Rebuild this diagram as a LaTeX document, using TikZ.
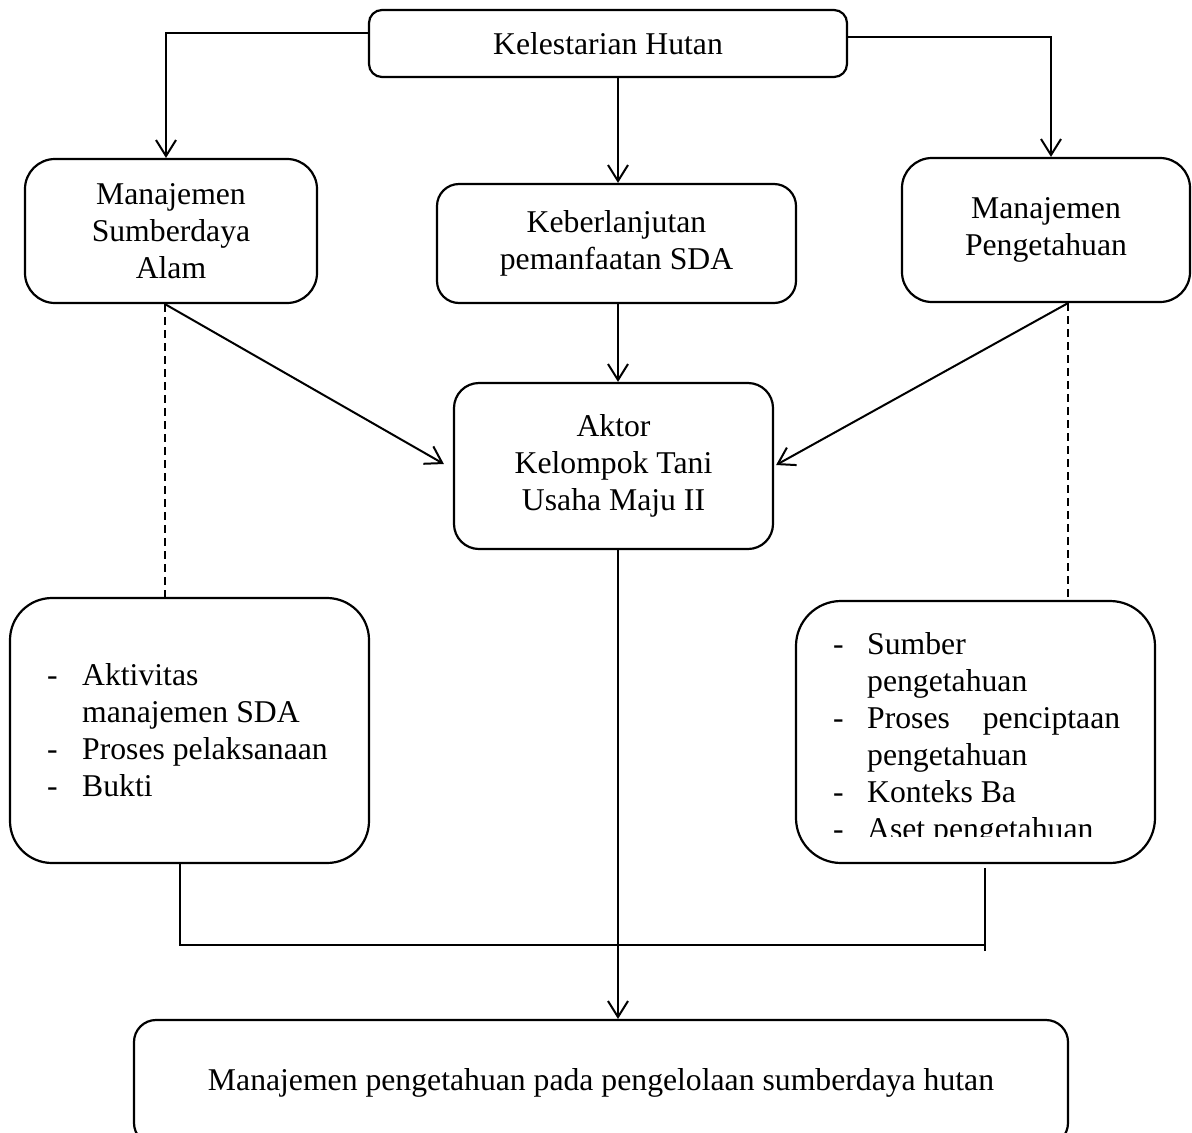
\documentclass[tikz,border=0pt]{standalone}
\usepackage{fontspec}
\setmainfont{Liberation Serif}
\usetikzlibrary{arrows.meta}
\newcommand{\diafont}{\fontsize{31.7}{37}\selectfont}
\newcommand{\ditem}[2]{\hangindent=#1\hangafter=1\noindent\makebox[#1][l]{-}#2\par}
\begin{document}
\begin{tikzpicture}[x=1pt,y=-1pt,
  box/.style={draw, line width=2.2pt, inner sep=0pt, align=center, font=\diafont},
  arr/.style={-{Straight Barb[length=16pt,width=20pt]}, line width=2pt},
  dsh/.style={line width=1.5pt, dash pattern=on 8pt off 5pt},
  brk/.style={line width=1.5pt},
  txt/.style={anchor=base west, inner sep=0pt, font=\diafont}]
\useasboundingbox (0,0) rectangle (1192,1133);
\clip (0,0) rectangle (1192,1133);

\node[box, minimum width=478pt, minimum height=67pt, rounded corners=13pt] (top) at (608,43.5) {Kelestarian Hutan};
\node[box, minimum width=292pt, minimum height=144pt, rounded corners=30pt] (msa) at (171,231) {Manajemen\\Sumberdaya\\Alam};
\node[box, minimum width=359pt, minimum height=119pt, rounded corners=22pt] (keb) at (616.5,243.5) {Keberlanjutan\\pemanfaatan SDA};
\node[box, minimum width=288pt, minimum height=144pt, rounded corners=30pt] (mp) at (1046,230) {Manajemen\\Pengetahuan};
\node[box, minimum width=319pt, minimum height=166pt, rounded corners=25pt] (aktor) at (613.5,466) {Aktor\\Kelompok Tani\\Usaha Maju II};
\node[box, minimum width=359pt, minimum height=265pt, rounded corners=42pt] (lb) at (189.5,730.5) {};
\node[box, minimum width=359pt, minimum height=262pt, rounded corners=45pt] (rb) at (975.5,732) {};
\node[box, minimum width=934pt, minimum height=125pt, rounded corners=22pt] (bot) at (601,1082.5) {Manajemen pengetahuan pada pengelolaan sumberdaya hutan};

\node[txt] (lbtext) at (47,685) {\parbox[t]{295pt}{
  \ditem{35pt}{Aktivitas\newline manajemen SDA}
  \ditem{35pt}{Proses pelaksanaan}
  \ditem{35pt}{Bukti}}};

\begin{scope}
\clip (790,590) rectangle (1160,836);
\node[txt] (rbtext) at (833,654) {\parbox[t]{287pt}{
  \ditem{34pt}{Sumber\newline pengetahuan}
  \ditem{34pt}{Proses\hfill penciptaan\newline pengetahuan}
  \ditem{34pt}{Konteks Ba}
  \ditem{34pt}{Aset pengetahuan}}};
\end{scope}

\coordinate (spine) at (618,0);
\coordinate (dl) at ([xshift=-6pt]msa.south);
\coordinate (dr) at ([xshift=22pt]mp.south);
\coordinate (bl) at (180,945);
\coordinate (br) at (985,945);
\coordinate (brtop) at (985,868);
\coordinate (brbot) at (985,951);

\draw[arr] ([yshift=10.5pt]top.west) -| ([xshift=-5pt]msa.north);
\draw[arr] ([yshift=6.5pt]top.east) -| ([xshift=5pt]mp.north);
\draw[arr] (top.south -| spine) -- (keb.north -| spine);
\draw[arr] (keb.south -| spine) -- (aktor.north -| spine);
\draw[arr] (aktor.south -| spine) -- (bot.north -| spine);
\draw[arr] (dl) -- ([xshift=-9pt,yshift=2pt]aktor.west);
\draw[arr] (dr) -- ([xshift=2pt,yshift=1pt]aktor.east);

\draw[dsh] (dl) -- (dl |- lb.north);
\draw[dsh] (dr) -- (dr |- rb.north);

\draw[brk] (lb.south -| bl) -- (bl) -- (br);
\draw[brk] (brbot) -- (brtop);
\end{tikzpicture}
\end{document}
